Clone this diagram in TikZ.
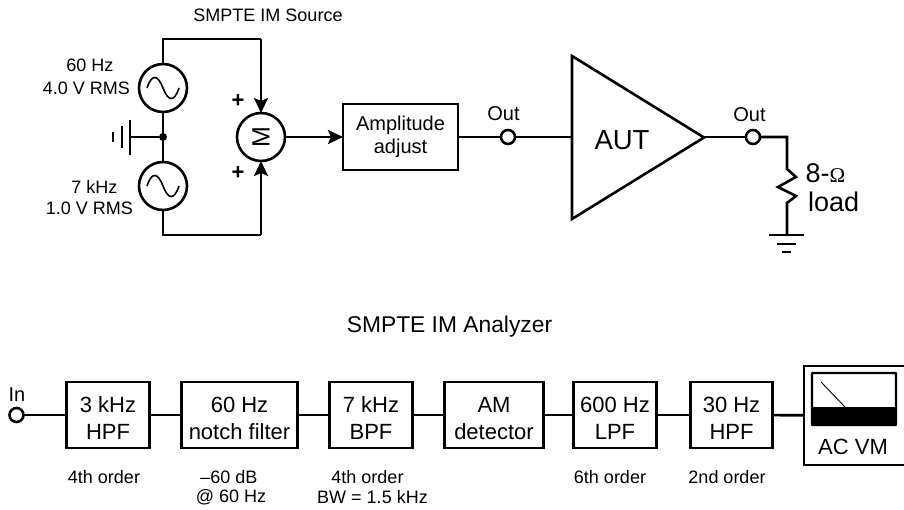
\documentclass[tikz,border=0pt]{standalone}
\usepackage{fontspec}
\usepackage{tikz}
\usetikzlibrary{arrows.meta, positioning, calc}
\setmainfont{Liberation Sans}
\newfontfamily\omegafont{Liberation Serif}

\begin{document}
\begin{tikzpicture}[
  x=1pt, y=-1pt,
  node distance=32pt,
  block/.style={rectangle, draw, line width=2.4pt, outer sep=0pt, minimum width=#1, minimum height=66pt, align=center, font=\fontsize{20}{23}\selectfont, inner sep=0pt},
  block/.default=83pt,
  blocktext/.style={align=center, font=\fontsize{22}{27}\selectfont, inner sep=0pt, yshift=-3.5pt},
  note/.style={font=\fontsize{18}{20}\selectfont, align=center, inner sep=0pt},
  outlabel/.style={font=\fontsize{20}{24}\selectfont, align=center, inner sep=0pt},
  port/.style={circle, draw, line width=2.6pt, fill=white, outer sep=0pt, minimum size=14pt, inner sep=0pt},
  source/.style={circle, draw, line width=2.6pt, outer sep=0pt, minimum size=48pt, inner sep=0pt},
  wire/.style={line width=2.6pt},
  arrow/.style={-{Stealth[length=15pt,width=14pt,inset=3pt]}, line width=2.6pt},
]
\useasboundingbox (0,0) rectangle (904,510);

% source side
\node[source] (sine1) at (163,88) {};
\node[source] (sine2) at (163,186) {};
\node[source] (mixer) at (261,137) {\rotatebox{90}{\fontsize{25}{25}\selectfont M}};
\node[fill, circle, minimum size=8pt, inner sep=0pt] (joint) at (163,137) {};
\coordinate (gnd1) at (130,137);
\coordinate (top1) at (163,39);
\coordinate (top2) at (261,39);
\coordinate (bot1) at (163,235);
\coordinate (bot2) at (261,235);

\node[note] (title1) at (268,15) {SMPTE IM Source};
\node[note] (f1) at (90,65) {60 Hz};
\node[note, anchor=east] (v1) at (130,88) {4.0 V RMS};
\node[note] (f2) at (94.5,187) {7 kHz};
\node[note, anchor=east] (v2) at (133,208) {1.0 V RMS};
\node[inner sep=0pt, font=\bfseries\fontsize{22}{22}\selectfont] (plus1) at (238,101.5) {+};
\node[inner sep=0pt, font=\bfseries\fontsize{22}{22}\selectfont] (plus2) at (238,173) {+};

\draw[wire] (sine1) -- (sine2);
\draw[wire] (joint) -- (gnd1);
\draw[wire] (gnd1 |- 0,120) -- (gnd1 |- 0,155);
\draw[wire] (122,126) -- (122,148);
\draw[wire] (113,132) -- (113,142);
\draw[wire] (sine1) -- (top1) -- (top2);
\draw[arrow] (top2) -- (mixer);
\draw[wire] (sine2) -- (bot1) -- (bot2);
\draw[arrow] (bot2) -- (mixer);

% sine marks
\draw[line width=1.6pt] (147,88) .. controls (152,73) and (158,75) .. (163,88) .. controls (168,101) and (174,103) .. (179,88);
\draw[line width=1.6pt] (147,186) .. controls (152,171) and (158,173) .. (163,186) .. controls (168,199) and (174,201) .. (179,186);

% amplifier chain
\node[block=115pt] (amp) at (400.5,137) {Amplitude\\adjust};
\node[port] (out1) at (508,137) {};
\node[outlabel] (outlab1) at (503.5,114) {Out};
\draw[line width=2.6pt] (572,56) -- (572,219) -- (704,137.5) -- cycle;
\coordinate (ampin) at (572,137);
\coordinate (ampout) at (704,137);
\node[inner sep=0pt, font=\fontsize{27.5}{28}\selectfont] (aut) at (622,140) {AUT};
\node[port] (out2) at (753,137) {};
\node[outlabel] (outlab2) at (749.5,114.5) {Out};
\coordinate (corner) at (787,137);
\coordinate (res1) at (787,169);
\coordinate (res2) at (787,203);
\coordinate (gnd2) at (787,235);

\draw[arrow] (mixer) -- (amp);
\draw[wire] (amp) -- (out1);
\draw[wire] (out1) -- (ampin);
\draw[wire] (ampout) -- (out2);
\draw[wire] (out2) -- (corner) -- (res1) -- (796,177) -- (778,187) -- (796,196) -- (res2) -- (gnd2);
\draw[wire] (769,235) -- (804,235);
\draw[wire] (777,244) -- (796,244);
\draw[wire] (782,252) -- (791,252);
\node[anchor=west, inner sep=0pt, font=\fontsize{27}{27}\selectfont] (ohm) at (805.5,173) {8-{\omegafont\fontsize{21}{21}\selectfont Ω}};
\node[anchor=west, inner sep=0pt, font=\fontsize{27}{27}\selectfont] (load) at (808,202) {load};

% analyzer
\node[outlabel, font=\fontsize{22.8}{24}\selectfont] (title2) at (449.5,327) {SMPTE IM Analyzer};
\node[port] (in) at (16.5,415) {};
\node[outlabel] (inlab) at (17,395) {In};
\node[block, label={[blocktext]center:{3 kHz\\HPF}}] (hpf1) at (108,415) {};
\node[block=116pt, right=of hpf1, label={[blocktext]center:{60 Hz\\notch filter}}] (notch) {};
\node[block, right=of notch, label={[blocktext]center:{7 kHz\\BPF}}] (bpf) {};
\node[block=99pt, right=of bpf, label={[blocktext]center:{AM\\detector}}] (det) {};
\node[block, right=30pt of det, label={[blocktext]center:{600 Hz\\LPF}}] (lpf) {};
\node[block=82pt, right=34pt of lpf, label={[blocktext]center:{30 Hz\\HPF}}] (hpf2) {};
\node[draw, line width=2.4pt, outer sep=0pt, minimum width=101pt, minimum height=99pt, inner sep=0pt] (meter) at (854.5,415.5) {};
\node[inner sep=0pt, font=\fontsize{22}{22}\selectfont] (vm) at (853,447) {AC VM};
\draw[line width=2.4pt, fill=white, rounded corners=0.5pt] (812,373) rectangle (896,425);
\fill[black] (812,407) rectangle (896,425);
\draw[line width=0.9pt] (821,382) -- (845,407);

\draw[wire] (in) -- (hpf1);
\draw[wire] (hpf1) -- (notch);
\draw[wire] (notch) -- (bpf);
\draw[wire] (bpf) -- (det);
\draw[wire] (det) -- (lpf);
\draw[wire] (lpf) -- (hpf2);
\draw[wire] (hpf2) -- (meter);

\node[note] (n1) at (104,477) {4th order};
\node[note] (n2) at (229,477) {–60 dB};
\node[note] (n2b) at (231,497) {@ 60 Hz};
\node[note] (n3) at (367.5,477) {4th order};
\node[note] (n3b) at (372.5,497) {BW = 1.5 kHz};
\node[note] (n4) at (610,477) {6th order};
\node[note] (n5) at (727,477) {2nd order};

\end{tikzpicture}
\end{document}
